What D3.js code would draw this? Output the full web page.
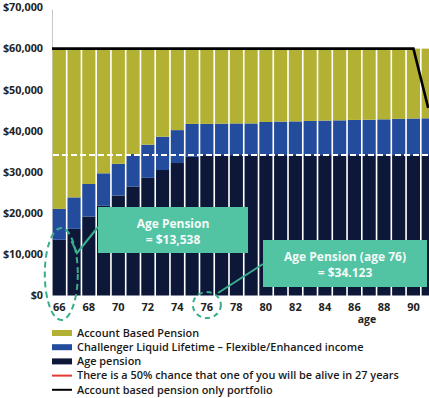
<!DOCTYPE html>
<html>
<head>
<meta charset="utf-8">
<script src="https://cdn.jsdelivr.net/npm/d3@7"></script>
<style>
  body { margin: 0; background: #fff; }
  svg { display: block; font-family: "Open Sans", sans-serif; }
</style>
</head>
<body>
<div id="chart"></div>
<script>
// data
var ages = [66, 67, 68, 69, 70, 71, 72, 73, 74, 75, 76, 77, 78, 79, 80, 81, 82, 83, 84, 85, 86, 87, 88, 89, 90, 91];
var agePension = [13538, 16200, 19200, 21800, 24300, 26500, 28600, 30500, 32200, 33700, 34123, 34123, 34123, 34123, 34123, 34123, 34123, 34123, 34123, 34123, 34123, 34123, 34123, 34123, 34123, 34123];
var challenger = [7500, 7650, 7900, 7900, 7700, 7900, 8050, 8100, 8000, 8000, 7580, 7650, 7700, 7700, 8050, 8150, 8200, 8300, 8400, 8450, 8550, 8600, 8700, 8800, 8900, 8950];
var accountBased = [38960, 36150, 32900, 30300, 28000, 25600, 23350, 21400, 19800, 18300, 18300, 18230, 18180, 18180, 17830, 17730, 17680, 17580, 17480, 17430, 17330, 17280, 17180, 17080, 16980, 16930];
var accountOnly = [60000, 60000, 60000, 60000, 60000, 60000, 60000, 60000, 60000, 60000, 60000, 60000, 60000, 60000, 60000, 60000, 60000, 60000, 60000, 60000, 60000, 60000, 60000, 60000, 60000, 45600];
var yTicks = [0, 10000, 20000, 30000, 40000, 50000, 60000, 70000];
var xTickAges = [66, 68, 70, 72, 74, 76, 78, 80, 82, 84, 86, 88, 90];
var pensionLevel = 34123;
var legendLabels = ["Account Based Pension", "Challenger Liquid Lifetime \u2013 Flexible/Enhanced income", "Age pension", "There is a 50% chance that one of you will be alive in 27 years", "Account based pension only portfolio"];

var colors = { acc: "#b3b134", chal: "#234c9c", age: "#0d1838", red: "#e53935", line: "#000" };
var teal = "#52c3a3", tealLine = "#3aae8c";

var width = 429, height = 398;

var svg = d3.select("#chart").append("svg")
    .attr("width", width)
    .attr("height", height);

var rows = ages.map(function(a, i) {
  return { age: a, age_p: agePension[i], chal: challenger[i], acc: accountBased[i] };
});
var stack = d3.stack().keys(["age_p", "chal", "acc"]);
var series = stack(rows);

var x = d3.scaleBand()
    .domain(ages)
    .range([52, 52 + ages.length * 14.75])
    .paddingInner(0.11)
    .paddingOuter(0.05);

var y = d3.scaleLinear()
    .domain([0, 70000])
    .range([295.5, 7.5]);

// y axis line
svg.append("line")
    .attr("x1", 52.5).attr("x2", 52.5)
    .attr("y1", y(70000) + 2).attr("y2", y(0))
    .attr("stroke", "#c8c8c8")
    .attr("stroke-width", 1);

// y labels
svg.append("g")
  .selectAll("text")
  .data(yTicks)
  .enter().append("text")
    .attr("x", 43)
    .attr("y", function(d) { return y(d); })
    .attr("dy", "0.35em")
    .attr("text-anchor", "end")
    .style("font-size", "10.8px")
    .style("font-weight", 700)
    .style("fill", "#222")
    .text(function(d) { return "$" + d3.format(",")(d); });

// bars
var fillFor = { age_p: colors.age, chal: colors.chal, acc: colors.acc };
svg.append("g")
  .selectAll("g")
  .data(series)
  .enter().append("g")
    .attr("fill", function(s) { return fillFor[s.key]; })
  .selectAll("rect")
  .data(function(s) { return s; })
  .enter().append("rect")
    .attr("x", function(d) { return x(d.data.age); })
    .attr("width", x.bandwidth())
    .attr("y", function(d) { return y(d[1]); })
    .attr("height", function(d) { return y(d[0]) - y(d[1]); });

// dashed white age pension level
svg.append("line")
    .attr("x1", 53).attr("x2", width)
    .attr("y1", y(pensionLevel)).attr("y2", y(pensionLevel))
    .attr("stroke", "#fff")
    .attr("stroke-width", 2)
    .attr("stroke-dasharray", "6,3");

// account based pension only portfolio line
var pts = [[x.range()[0], y(accountOnly[0])]];
ages.forEach(function(a, i) { pts.push([x(a) + x.bandwidth() / 2, y(accountOnly[i])]); });
svg.append("path")
    .attr("d", d3.line()(pts))
    .attr("fill", "none")
    .attr("stroke", colors.line)
    .attr("stroke-width", 2.6);

// x labels
svg.append("g")
  .selectAll("text")
  .data(xTickAges)
  .enter().append("text")
    .attr("x", function(d) { return x(d) + x.bandwidth() / 2; })
    .attr("y", 307)
    .attr("dy", "0.35em")
    .attr("text-anchor", "middle")
    .style("font-size", "11px")
    .style("font-weight", 700)
    .style("fill", "#222")
    .text(function(d) { return d; });

svg.append("text")
    .attr("x", 367).attr("y", 319)
    .attr("dy", "0.35em")
    .attr("text-anchor", "middle")
    .style("font-size", "10.5px")
    .style("font-weight", 700)
    .style("fill", "#222")
    .text("age");

// annotations
var ann = svg.append("g");
var c66 = x(66) + x.bandwidth() / 2, c76 = x(76) + x.bandwidth() / 2;

ann.append("ellipse")
    .attr("cx", c66 + 2).attr("cy", 274)
    .attr("rx", 16.5).attr("ry", 46)
    .attr("fill", "none")
    .attr("stroke", tealLine)
    .attr("stroke-width", 2)
    .attr("stroke-dasharray", "6,4");
ann.append("polyline")
    .attr("points", "71.5,241 77,253 98,227")
    .attr("fill", "none")
    .attr("stroke", tealLine)
    .attr("stroke-width", 2);

ann.append("ellipse")
    .attr("cx", c76).attr("cy", 305)
    .attr("rx", 14).attr("ry", 13)
    .attr("fill", "none")
    .attr("stroke", tealLine)
    .attr("stroke-width", 2)
    .attr("stroke-dasharray", "5,4");
ann.append("line")
    .attr("x1", 218).attr("y1", 293)
    .attr("x2", 263).attr("y2", 264)
    .attr("stroke", tealLine)
    .attr("stroke-width", 2);

var boxes = [
  { x: 98, y: 207, w: 150, h: 46, lines: ["Age Pension", "= $13,538"] },
  { x: 263, y: 240, w: 164, h: 47, lines: ["Age Pension (age 76)", "= $34.123"] }
];
boxes.forEach(function(b) {
  ann.append("rect")
      .attr("x", b.x).attr("y", b.y)
      .attr("width", b.w).attr("height", b.h)
      .attr("fill", teal);
  b.lines.forEach(function(t, i) {
    ann.append("text")
        .attr("x", b.x + b.w / 2)
        .attr("y", b.y + 17 + i * 15.5)
        .attr("dy", "0.35em")
        .attr("text-anchor", "middle")
        .style("font-size", "12px")
        .style("font-weight", 700)
        .style("fill", "#f4fbf8")
        .text(t);
  });
});

// legend
var leg = svg.append("g");
legendLabels.forEach(function(label, i) {
  var ly = 333 + i * 14.2;
  if (i < 3) {
    leg.append("rect")
        .attr("x", 52).attr("y", ly - 3)
        .attr("width", 20).attr("height", 6)
        .attr("fill", [colors.acc, colors.chal, colors.age][i]);
  } else {
    leg.append("line")
        .attr("x1", 52).attr("x2", 72)
        .attr("y1", ly).attr("y2", ly)
        .attr("stroke", i === 3 ? colors.red : colors.line)
        .attr("stroke-width", 2);
  }
  leg.append("text")
      .attr("x", 77).attr("y", ly)
      .attr("dy", "0.35em")
      .style("font-size", "10.9px")
      .style("font-weight", 600)
      .style("fill", "#1a1a1a")
      .text(label);
});
</script>
</body>
</html>
